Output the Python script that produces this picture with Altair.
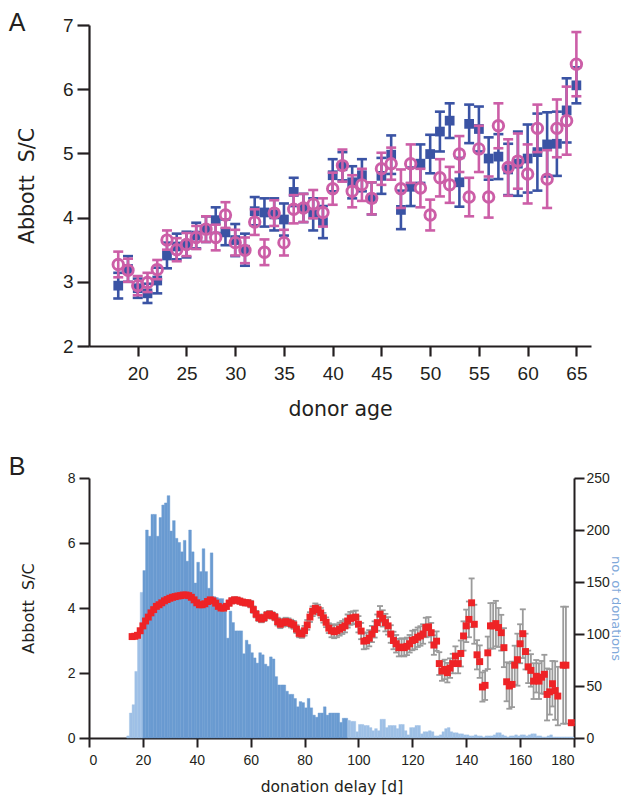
import altair as alt
import pandas as pd

# ---------------- Panel A data ----------------
ages = list(range(18, 66))
blue_val = [2.94, 3.20, 2.90, 2.82, 3.02, 3.41, 3.55, 3.58, 3.72, 3.82,
            3.96, 3.77, 3.65, 3.50, 4.10, 4.08, 4.05, 3.97, 4.40, 4.15,
            4.05, 3.93, 4.66, 4.80, 4.55, 4.66, 4.30, 4.65, 4.98, 4.12,
            4.48, 4.84, 4.99, 5.34, 5.51, 4.55, 5.46, 5.38, 4.92, 4.95,
            4.75, 4.84, 4.92, 5.02, 5.14, 5.15, 5.67, 6.06]
blue_err = [0.20, 0.20, 0.15, 0.15, 0.20, 0.20, 0.20, 0.20, 0.20, 0.20,
            0.20, 0.20, 0.25, 0.25, 0.22, 0.22, 0.25, 0.25, 0.22, 0.22,
            0.25, 0.25, 0.25, 0.22, 0.25, 0.25, 0.25, 0.28, 0.30, 0.30,
            0.30, 0.30, 0.30, 0.31, 0.27, 0.38, 0.30, 0.35, 0.33, 0.35,
            0.40, 0.50, 0.53, 0.60, 0.50, 0.50, 0.50, 0.28]
pink_val = [3.27, 3.18, 2.94, 2.99, 3.19, 3.65, 3.50, 3.58, 3.69, 3.82,
            3.69, 4.04, 3.61, 3.49, 3.93, 3.46, 4.07, 3.61, 4.13, 4.15,
            4.21, 4.08, 4.45, 4.81, 4.41, 4.51, 4.30, 4.76, 4.84, 4.45,
            4.84, 4.46, 4.04, 4.62, 4.51, 4.99, 4.32, 5.07, 4.32, 5.43,
            4.78, 4.88, 4.68, 5.39, 4.60, 5.39, 5.51, 6.39]
pink_err = [0.20, 0.18, 0.15, 0.15, 0.15, 0.15, 0.18, 0.18, 0.18, 0.20,
            0.20, 0.20, 0.20, 0.20, 0.20, 0.20, 0.20, 0.20, 0.22, 0.22,
            0.22, 0.22, 0.25, 0.25, 0.25, 0.25, 0.25, 0.25, 0.25, 0.30,
            0.30, 0.30, 0.24, 0.29, 0.28, 0.28, 0.30, 0.36, 0.32, 0.35,
            0.44, 0.43, 0.46, 0.37, 0.45, 0.45, 0.53, 0.50]

# ---------------- Panel B data ----------------
hist_days = list(range(14, 180))
hist_counts = [2, 24, 32, 64, 96, 140,
               161, 200, 194, 215, 215, 194, 212, 224, 226, 233,
               199, 209, 192, 188, 179, 190, 170, 200, 179, 149,
               169, 160, 182, 160, 144, 178, 136, 135, 134, 134,
               122, 96, 122, 111, 103, 103, 103, 81, 94, 90,
               82, 77, 72, 82, 80, 71, 69, 78, 76, 59,
               51, 51, 51, 45, 42, 42, 38, 30, 35, 34,
               29, 38, 29, 22, 20, 24, 24, 30, 22, 24,
               24, 24, 24, 15, 19, 19, 17, 16, 16, 6,
               13, 13, 12, 12, 10, 7, 9, 7, 18, 18,
               10, 12, 12, 12, 9, 13, 13, 7, 3, 10,
               10, 12, 12, 4, 6, 6, 7, 6, 2, 2,
               3, 6, 9, 10, 6, 5, 5, 4, 4, 3,
               3, 2, 2, 3, 2, 2, 1, 2, 2, 2,
               3, 5, 5, 3, 2, 1, 2, 2, 3, 2,
               3, 3, 2, 3, 4, 4, 2, 2, 1, 1,
               2, 3, 1, 1, 1, 1, 1, 1, 1, 1]

red_days = list(range(16, 175)) + [176, 177, 179]
red_val = [3.12, 3.13, 3.16, 3.30,
           3.45, 3.60, 3.72, 3.85, 3.95, 4.05, 4.10, 4.16, 4.22, 4.26,
           4.30, 4.33, 4.35, 4.37, 4.38, 4.40, 4.40, 4.38, 4.33, 4.25,
           4.16, 4.10, 4.10, 4.13, 4.20, 4.25, 4.22, 4.15, 4.05, 4.00,
           4.00, 4.05, 4.15, 4.22, 4.25, 4.24, 4.21, 4.18, 4.16, 4.16,
           4.12, 3.95, 3.81, 3.70, 3.66, 3.70, 3.78, 3.81, 3.77, 3.72,
           3.58, 3.50, 3.55, 3.58, 3.56, 3.52, 3.48, 3.35, 3.22, 3.20,
           3.30, 3.48, 3.72, 3.90, 3.99, 3.95, 3.85, 3.70, 3.56, 3.38,
           3.30, 3.27, 3.30, 3.35, 3.40, 3.45, 3.60, 3.68, 3.70, 3.72,
           3.50, 3.29, 2.98, 3.00, 3.07, 3.20, 3.34, 3.55, 3.81, 3.68,
           3.55, 3.45, 3.20, 3.00, 2.90, 2.78, 2.80, 2.78, 2.82, 2.90,
           3.00, 3.03, 3.10, 3.14, 3.20, 3.40, 3.42, 3.24, 2.86, 2.98,
           2.29, 2.06, 2.11, 2.01, 2.15, 2.29, 2.52, 2.29, 2.60, 3.14,
           3.45, 3.65, 4.16, 3.50, 2.56, 2.35, 1.57, 1.62, 2.62, 3.45,
           3.45, 3.52, 3.40, 3.24, 2.78, 1.73, 1.60, 1.65, 2.24, 2.41,
           2.90, 3.21, 2.66, 2.19, 2.08, 1.75, 1.90, 1.75, 1.87, 1.96,
           1.34, 1.42, 1.67, 1.46, 1.29,
           2.24, 2.24, 0.47]
red_err = [0.06, 0.06, 0.06, 0.06,
           0.06, 0.06, 0.06, 0.06, 0.06, 0.06, 0.06, 0.06, 0.06, 0.06,
           0.07, 0.07, 0.07, 0.07, 0.07, 0.07, 0.07, 0.07, 0.07, 0.07,
           0.07, 0.07, 0.07, 0.07, 0.07, 0.07, 0.07, 0.07, 0.07, 0.07,
           0.08, 0.08, 0.08, 0.08, 0.08, 0.08, 0.08, 0.08, 0.08, 0.08,
           0.10, 0.10, 0.10, 0.10, 0.10, 0.10, 0.10, 0.10, 0.10, 0.10,
           0.12, 0.12, 0.12, 0.12, 0.12, 0.12, 0.12, 0.12, 0.12, 0.12,
           0.15, 0.15, 0.15, 0.15, 0.15, 0.15, 0.15, 0.15, 0.15, 0.15,
           0.20, 0.20, 0.20, 0.20, 0.20, 0.20, 0.20, 0.20, 0.20, 0.20,
           0.25, 0.25, 0.25, 0.25, 0.25, 0.25, 0.25, 0.25, 0.25, 0.25,
           0.27, 0.27, 0.27, 0.27, 0.27, 0.27, 0.27, 0.27, 0.27, 0.27,
           0.30, 0.30, 0.30, 0.30, 0.30, 0.30, 0.30, 0.30, 0.30, 0.30,
           0.35, 0.30, 0.30, 0.30, 0.30, 0.30, 0.30, 0.30, 0.40, 0.45,
           0.50, 0.55, 0.75, 0.60, 0.45, 0.50, 0.45, 0.45, 0.50, 0.70,
           0.70, 0.70, 0.60, 0.55, 0.60, 0.60, 0.70, 0.70, 0.60, 0.80,
           0.60, 0.75, 0.55, 0.50, 0.50, 0.55, 0.50, 0.55, 0.50, 0.60,
           0.80, 0.70, 0.70, 0.90, 0.90,
           1.80, 1.80, 0.00]

# ---------------- styles ----------------
FONT = "Liberation Sans"
TFONT = "DejaVu Sans"
INK = "#231F20"
BLUE = "#3A53A4"
PINK = "#CC5EA7"
RED = "#EE2326"
GREY = "#9B9B9B"
HIST_DARK = "#6A9BD1"
HIST_LIGHT = "#9EC0E6"
TITLE_BLUE = "#7FA9DA"

common_axis = dict(grid=False, domainColor=INK, tickColor=INK, labelColor=INK,
                   titleColor=INK, labelFont=FONT, titleFont=TFONT,
                   titleFontWeight="normal")


def err_layers(df, xenc, yscale, yaxis, color, sw, cap):
    base = alt.Chart(df).transform_calculate(lo="datum.v - datum.e",
                                             hi="datum.v + datum.e")
    rule = base.mark_rule(color=color, strokeWidth=sw).encode(
        x=xenc, y=alt.Y("lo:Q", scale=yscale, axis=yaxis), y2="hi:Q")
    t1 = base.mark_tick(color=color, orient="horizontal", size=cap,
                        thickness=sw, opacity=1).encode(
        x=xenc, y=alt.Y("lo:Q", scale=yscale, axis=yaxis))
    t2 = base.mark_tick(color=color, orient="horizontal", size=cap,
                        thickness=sw, opacity=1).encode(
        x=xenc, y=alt.Y("hi:Q", scale=yscale, axis=yaxis))
    return [rule, t1, t2]


# ---------------- Panel A ----------------
dfb = pd.DataFrame({"age": ages, "v": blue_val, "e": blue_err})
dfp = pd.DataFrame({"age": ages, "v": pink_val, "e": pink_err})

axA_x = alt.Axis(values=list(range(20, 66, 5)), title="donor age",
                 domainWidth=2.2, tickWidth=2.2, tickSize=10,
                 labelFontSize=19, labelPadding=8,
                 titleFontSize=20.5, titlePadding=16, **common_axis)
axA_y = alt.Axis(values=[2, 3, 4, 5, 6, 7], title="Abbott\u00a0 S/C",
                 domainWidth=2.2, tickWidth=2.2, tickSize=12,
                 labelFontSize=19, labelPadding=4,
                 titleFontSize=20.5, titlePadding=25, **common_axis)
scA_x = alt.Scale(domain=[15, 66.5], nice=False, zero=False, padding=0)
scA_y = alt.Scale(domain=[2, 7], nice=False, zero=False, padding=0)
xA = alt.X("age:Q", scale=scA_x, axis=axA_x)

blue_pts = alt.Chart(dfb).mark_point(shape="square", filled=True, size=95,
                                     color=BLUE, opacity=1).encode(
    x=xA, y=alt.Y("v:Q", scale=scA_y, axis=axA_y))
pink_pts = alt.Chart(dfp).mark_point(shape="circle", filled=False, size=110,
                                     strokeWidth=2.9, color=PINK, opacity=1).encode(
    x=xA, y=alt.Y("v:Q", scale=scA_y, axis=axA_y))
txtA = alt.Chart(pd.DataFrame({"t": ["A"]})).mark_text(
    fontSize=25, font=FONT, color=INK, align="center", baseline="middle").encode(
    text="t:N", x=alt.value(-72), y=alt.value(-2))

panelA = alt.layer(
    *err_layers(dfb, xA, scA_y, axA_y, BLUE, 2.6, 10), blue_pts,
    *err_layers(dfp, xA, scA_y, axA_y, PINK, 2.6, 10), pink_pts,
    txtA,
).properties(width=502, height=321)

# ---------------- Panel B ----------------
dfh = pd.DataFrame({"day": hist_days, "count": hist_counts})
dfr = pd.DataFrame({"day": red_days, "v": red_val, "e": red_err})

axB_x = alt.Axis(values=list(range(0, 181, 20)), title="donation delay [d]",
                 domainWidth=2, tickWidth=2, tickSize=9,
                 labelFontSize=14, labelPadding=6,
                 titleFontSize=15.5, titlePadding=12, **common_axis)
axB_left = alt.Axis(values=[0, 2, 4, 6, 8], title="Abbott\u00a0 S/C", orient="left",
                    domainWidth=2, tickWidth=2, tickSize=10,
                    labelFontSize=14, labelPadding=4,
                    titleFontSize=16, titlePadding=31, **common_axis)
right_common = dict(common_axis)
right_common["titleColor"] = TITLE_BLUE
axB_right = alt.Axis(values=[0, 50, 100, 150, 200, 250], title="no. of donations",
                     orient="right", domainWidth=2, tickWidth=2, tickSize=10,
                     labelFontSize=14, labelPadding=2,
                     titleFontSize=13, titleX=37, titleAngle=90,
                     titleBaseline="alphabetic", **right_common)
scB_x = alt.Scale(domain=[0, 180], nice=False, zero=False, padding=0)
scB_left = alt.Scale(domain=[0, 8], nice=False, padding=0)
scB_right = alt.Scale(domain=[0, 250], nice=False, padding=0)
xB = alt.X("day:Q", scale=scB_x, axis=axB_x)

hist_color = alt.condition("datum.day >= 20 && datum.day <= 95",
                           alt.value(HIST_DARK), alt.value(HIST_LIGHT))
hist = alt.Chart(dfh).transform_calculate(
    day_end="datum.day + 1", base="0").mark_rect(opacity=1, strokeWidth=0.4).encode(
    x=xB, x2="day_end:Q",
    y=alt.Y("count:Q", scale=scB_right, axis=axB_right), y2="base:Q",
    color=hist_color, stroke=hist_color)

red_pts = alt.Chart(dfr).mark_square(size=48, color=RED, opacity=1).encode(
    x=xB, y=alt.Y("v:Q", scale=scB_left, axis=axB_left))
txtB = alt.Chart(pd.DataFrame({"t": ["B"]})).mark_text(
    fontSize=25, font=FONT, color=INK, align="center", baseline="middle").encode(
    text="t:N", x=alt.value(-72), y=alt.value(-11))

red_layer = alt.layer(*err_layers(dfr, xB, scB_left, axB_left, GREY, 1.8, 6),
                      red_pts, txtB)

panelB = alt.layer(hist, red_layer).resolve_scale(y="independent").properties(
    width=485, height=260)

chart = alt.vconcat(panelA, panelB, spacing=132, bounds="flush").properties(
    padding={"left": 0, "top": 3, "right": 0, "bottom": 0}
).configure(font=FONT).configure_view(stroke=None)

chart.save("out.html", embed_options={"renderer": "svg", "actions": False})
